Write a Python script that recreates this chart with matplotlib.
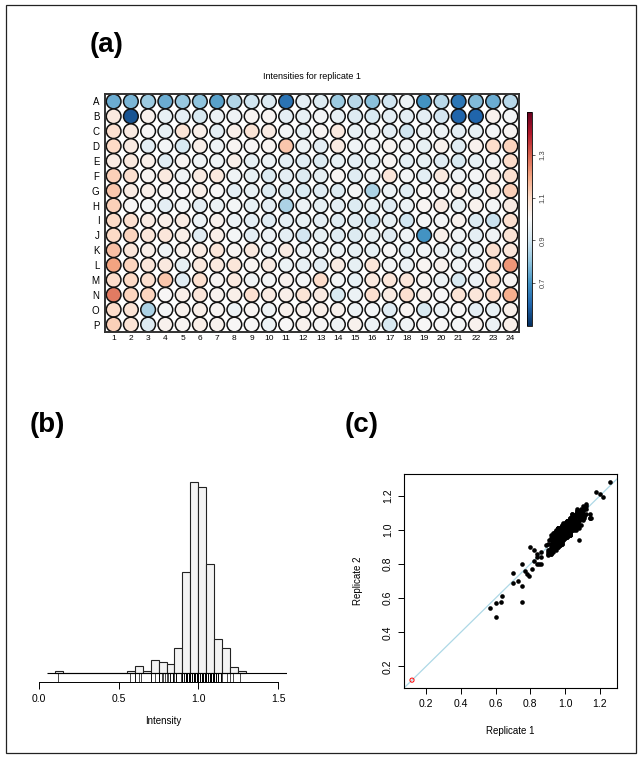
import numpy as np
import matplotlib
matplotlib.use('Agg')
from matplotlib import pyplot as plt
from matplotlib.patches import Rectangle

plt.rcParams['font.family'] = ['Liberation Sans', 'DejaVu Sans']

rows = list('ABCDEFGHIJKLMNOP')
cols = list(range(1, 25))

rep1 = [
    [0.75,0.77,0.82,0.75,0.81,0.80,0.73,0.85,0.90,0.93,0.63,0.95,0.93,0.82,0.86,0.79,0.90,0.97,0.70,0.86,0.64,0.78,0.75,0.86],
    [1.05,0.57,1.02,0.96,0.95,0.92,0.97,0.98,1.01,1.01,0.95,0.96,0.99,0.96,0.93,0.92,0.95,0.95,0.95,0.91,0.60,0.60,1.02,0.99],
    [1.08,1.04,1.00,0.96,1.07,1.03,0.95,1.03,1.07,1.04,0.99,0.96,1.01,1.05,0.96,0.97,0.95,0.90,0.97,0.97,0.95,0.96,0.99,1.01],
    [1.10,1.04,0.95,0.99,0.92,1.03,0.98,1.01,1.00,1.01,1.14,0.97,0.95,1.04,0.98,0.99,1.01,0.98,0.96,1.02,0.94,1.02,1.09,1.11],
    [1.04,1.05,1.03,0.94,1.01,0.98,0.98,1.03,0.96,0.97,0.95,0.94,0.93,0.96,0.95,0.96,1.01,0.95,0.96,0.94,0.92,0.96,0.99,1.09],
    [1.12,1.08,1.01,1.05,0.98,1.04,1.05,0.98,0.96,0.93,0.95,0.93,0.96,1.01,0.94,0.98,1.06,0.99,0.95,1.05,0.98,0.99,1.04,1.08],
    [1.14,1.04,1.03,1.01,1.00,1.03,1.00,0.95,0.96,0.93,0.93,0.92,0.94,0.93,0.99,0.84,0.97,0.94,1.00,0.99,1.03,0.96,1.05,1.12],
    [1.12,1.00,0.99,0.95,0.99,0.95,0.97,0.99,0.96,0.95,0.84,0.97,0.96,0.95,0.93,0.96,0.94,0.97,1.01,1.04,0.96,1.02,0.99,1.04],
    [1.10,1.08,1.04,1.03,1.04,0.97,1.02,0.97,0.95,0.94,0.95,0.96,0.95,0.94,0.94,0.90,0.96,0.90,0.99,0.99,1.02,0.93,0.89,1.08],
    [1.10,1.11,1.06,1.06,1.03,0.94,1.03,0.99,0.95,0.97,0.95,0.91,0.96,0.94,0.93,0.96,0.94,0.98,0.70,1.03,0.98,0.95,0.98,1.07],
    [1.15,1.06,1.03,0.98,1.02,1.04,1.06,1.01,1.05,0.98,1.04,0.97,0.97,0.97,0.96,0.96,1.00,0.96,0.98,0.97,0.96,0.97,1.08,1.06],
    [1.20,1.11,1.06,1.05,0.96,1.05,1.05,1.06,1.01,1.04,0.97,0.96,0.95,1.04,0.96,1.06,0.99,0.97,1.01,1.02,0.98,0.98,1.10,1.22],
    [1.09,1.10,1.08,1.14,0.94,1.08,1.01,1.05,0.98,0.99,1.02,0.99,1.09,0.99,0.96,1.05,1.06,1.06,1.01,0.97,0.92,0.97,1.08,1.01],
    [1.26,1.11,1.11,1.00,1.03,1.06,1.02,1.03,1.08,1.04,1.03,1.07,1.04,0.92,0.97,1.08,1.04,1.08,1.03,1.00,1.07,1.06,1.09,1.18],
    [1.09,1.07,0.84,0.99,1.02,1.03,1.01,0.97,1.01,0.98,1.02,1.02,1.03,1.02,0.97,0.99,0.94,1.01,0.92,0.97,1.00,0.95,0.96,1.03],
    [1.12,1.07,0.93,1.02,1.01,1.03,1.02,1.00,1.00,0.97,1.00,1.02,1.00,0.98,1.02,0.97,0.92,0.98,1.00,1.00,0.99,1.02,0.97,1.03],
]

# replicate 2, same layout in (c)
rep2 = [
    [0.80,0.76,0.88,0.58,0.77,0.90,0.70,0.80,0.88,0.90,0.58,0.93,0.96,0.82,0.84,0.73,0.92,0.95,0.75,0.87,0.61,0.74,0.67,0.80],
    [1.08,0.54,1.01,1.01,0.91,0.92,0.91,1.00,0.99,1.05,0.92,0.97,0.94,0.99,0.93,0.90,0.99,0.88,0.96,0.88,0.57,0.49,1.04,0.95],
    [1.06,1.08,0.95,0.97,1.04,1.05,0.95,0.97,1.12,1.03,1.02,0.92,1.03,1.03,1.00,0.94,0.96,0.85,1.00,0.97,0.93,1.01,0.95,1.02],
    [1.11,1.00,0.98,0.99,0.86,1.07,0.96,1.03,0.95,1.02,1.07,1.00,0.94,1.09,0.95,0.99,0.97,1.00,0.94,1.06,0.93,0.97,1.11,1.08],
    [1.01,1.07,1.03,0.89,1.05,0.97,1.01,0.97,0.97,0.95,1.00,0.90,0.95,0.96,0.92,1.00,0.96,0.96,0.94,0.97,0.88,0.97,0.98,1.03],
    [1.14,1.03,1.05,1.03,0.98,1.00,1.06,0.95,1.01,0.87,0.97,0.93,0.94,1.04,0.89,1.02,1.05,0.96,0.97,1.01,1.01,0.97,1.05,1.01],
    [1.09,1.07,1.02,1.05,0.97,1.03,1.02,0.91,0.97,0.91,0.98,0.86,0.97,0.92,0.95,0.80,0.99,0.91,1.04,0.99,0.98,0.97,1.03,1.15],
    [1.12,0.97,1.04,0.94,0.94,0.97,0.95,1.02,0.90,0.99,0.86,0.93,0.97,0.92,0.95,0.96,0.92,1.01,0.96,1.05,0.95,1.05,0.95,1.06],
    [1.14,1.06,1.05,0.99,1.06,0.91,1.05,0.97,0.92,0.99,0.94,0.91,0.97,0.92,0.98,0.86,0.96,0.87,1.00,0.97,1.05,0.88,0.91,1.07],
    [1.06,1.12,1.00,1.09,1.01,0.98,1.03,0.96,0.97,0.92,0.96,0.94,0.92,0.94,0.91,1.01,0.91,0.99,0.69,0.99,1.00,0.94,1.01,1.02],
    [1.07,1.09,1.01,0.99,0.98,1.09,1.03,1.01,1.07,0.92,1.03,1.00,0.93,0.99,0.96,0.91,1.04,0.94,0.99,0.94,0.99,0.96,0.94,1.08],
    [1.21,1.08,1.08,1.00,1.00,1.05,1.03,1.09,0.97,1.05,0.91,0.98,0.95,1.01,1.01,1.05,0.95,1.00,0.99,1.04,0.93,0.99,1.07,1.19],
    [1.12,1.09,1.09,1.07,0.91,1.10,0.97,1.05,1.02,0.97,0.97,1.00,1.07,1.02,0.90,1.06,1.03,1.08,1.01,0.93,0.97,0.95,1.11,1.00],
    [1.28,1.07,1.13,0.98,1.06,1.01,1.02,1.07,1.05,1.05,0.97,1.09,1.03,0.95,0.93,1.08,1.06,1.03,1.04,0.97,1.11,1.04,1.07,1.22],
    [1.08,1.11,0.84,0.96,1.03,0.98,1.04,0.97,0.99,1.02,0.98,1.03,0.97,1.04,0.97,0.96,0.99,1.00,0.88,0.99,0.98,0.98,0.91,1.04],
    [1.09,1.09,0.94,0.98,1.04,1.03,0.97,1.02,0.99,1.01,0.97,1.03,0.98,1.03,0.98,0.97,0.94,0.92,1.03,0.99,1.00,0.99,1.01,1.01],
]

# flagged well (drawn in red in the scatter)
flag_rep1 = 0.12
flag_rep2 = 0.12

# histogram of intensities, bins of 0.05 from 0.10
bin_width = 0.05
hist_counts = [1,0,0,0,0,0,0,0,0,1,4,1,7,6,5,13,53,100,97,57,18,13,3,1]

W, H = 642, 759
fig = plt.figure(figsize=(W/100, H/100), dpi=100)

def box(l, t, r, b):
    return [l/W, 1-b/H, (r-l)/W, (b-t)/H]

# ---------- (a) plate ----------
ax = fig.add_axes(box(105, 94, 519, 332))
xx, yy = np.meshgrid(np.arange(1, len(cols)+1), np.arange(1, len(rows)+1))
sc = ax.scatter(xx.ravel(), yy.ravel(), c=np.array(rep1).ravel(), cmap='RdBu_r',
                vmin=0.5, vmax=1.5, s=112, edgecolors='#111111', linewidths=1.1)
ax.set_xlim(0.5, 24.5)
ax.set_ylim(16.5, 0.5)
ax.set_xticks(range(1, 25))
ax.set_xticklabels([str(c) for c in cols], fontsize=6)
ax.set_yticks(range(1, 17))
ax.set_yticklabels(rows, fontsize=7)
ax.tick_params(axis='x', length=0, pad=2)
ax.tick_params(axis='y', length=0, pad=4)
for s in ax.spines.values():
    s.set_linewidth(1.4)
    s.set_color('#333333')
ax.set_title('Intensities for replicate 1', fontsize=6.5, pad=11)

cax = fig.add_axes(box(527, 112, 532, 326))
cb = fig.colorbar(sc, cax=cax, ticks=[0.7, 0.9, 1.1, 1.3])
cb.outline.set_linewidth(0.6)
cax.tick_params(labelsize=5.5, length=2.5, width=0.6, pad=3, colors='#444444')
for lab in cax.get_yticklabels():
    lab.set_rotation(90)
    lab.set_va('center')

fig.text(107/W, 1-45/H, '(a)', fontsize=20, fontweight='bold', ha='center', va='center')

# ---------- (b) histogram ----------
ax2 = fig.add_axes(box(39, 474, 287, 682))
edges = 0.10 + bin_width*np.arange(len(hist_counts))
ax2.bar(edges, hist_counts, width=bin_width, align='edge', color='#f3f3f3',
        edgecolor='#222222', linewidth=0.8)
ax2.hlines(0, 0.05, 1.56, color='black', lw=0.8)
rug = np.append(np.array(rep1).ravel(), flag_rep1)
ax2.vlines(rug, -4.6, 0, color='black', lw=0.5)
ax2.set_yticks([])
for k in ['top', 'right', 'left']:
    ax2.spines[k].set_visible(False)
ax2.spines['bottom'].set_bounds(0, 1.5)
ax2.spines['bottom'].set_linewidth(0.7)
ax2.set_xticks([0.0, 0.5, 1.0, 1.5])
ax2.set_xticklabels(['0.0', '0.5', '1.0', '1.5'])
ax2.set_xlim(0.0, 1.556)
ax2.set_ylim(-4.6, 104)
ax2.tick_params(axis='x', labelsize=7.5, length=5, width=0.7, pad=4)
ax2.set_xlabel('Intensity', fontsize=7, labelpad=8)

fig.text(47/W, 1-425/H, '(b)', fontsize=20, fontweight='bold', ha='center', va='center')

# ---------- (c) replicate scatter ----------
ax3 = fig.add_axes(box(404, 474, 617, 688))
ax3.axline((0, 0), slope=1, color='#add8e6', lw=0.9, zorder=1)
ax3.scatter(np.array(rep1).ravel(), np.array(rep2).ravel(), s=11, c='black',
            linewidths=0, zorder=2)
ax3.scatter([flag_rep1], [flag_rep2], s=9, facecolors='none', edgecolors='red',
            linewidths=0.7, zorder=3)
tk = [0.2, 0.4, 0.6, 0.8, 1.0, 1.2]
ax3.set_xticks(tk)
ax3.set_yticks(tk)
ax3.set_xticklabels(['%.1f' % t for t in tk])
ax3.set_yticklabels(['%.1f' % t for t in tk], rotation=90, va='center')
ax3.set_xlim(0.074, 1.298)
ax3.set_ylim(0.074, 1.327)
ax3.tick_params(labelsize=7.5, length=4, width=0.7, pad=4)
for s in ax3.spines.values():
    s.set_linewidth(0.8)
ax3.set_xlabel('Replicate 1', fontsize=7, labelpad=12)
ax3.set_ylabel('Replicate 2', fontsize=7, labelpad=14)

fig.text(362/W, 1-425/H, '(c)', fontsize=20, fontweight='bold', ha='center', va='center')

# outer frame
fig.add_artist(Rectangle((6/W, 1-753/H), 630/W, 748/H, transform=fig.transFigure,
                         fill=False, lw=0.9, ec='#222222'))

fig.savefig('out.png', dpi=100)
